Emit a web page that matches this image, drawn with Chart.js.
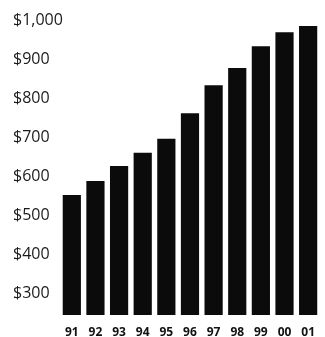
<!DOCTYPE html>
<html>
<head>
<meta charset="utf-8">
<script src="https://cdn.jsdelivr.net/npm/chart.js@4/dist/chart.umd.min.js"></script>
<style>
    html, body { margin: 0; padding: 0; background: #fff; }
    canvas { display: block; }
</style>
</head>
<body>
<canvas id="chart" width="325" height="337"></canvas>
<script>
const years = ['91', '92', '93', '94', '95', '96', '97', '98', '99', '00', '01'];
const amounts = [552, 588, 626, 660, 696, 762, 834, 878, 934, 970, 986];
const yTicks = [300, 400, 500, 600, 700, 800, 900, 1000];

const ctx = document.getElementById('chart');

// "$1,000" is wider than the axis box; widen the label clip after layout
const widenLabelClip = {
    id: 'widenLabelClip',
    afterLayout(chart) {
        chart.scales.y.right += 20;
    }
};

new Chart(ctx, {
    type: 'bar',
    data: {
        labels: years,
        datasets: [{
            data: amounts,
            backgroundColor: '#0b0b0b',
            borderWidth: 0,
            barPercentage: 0.77,
            categoryPercentage: 1
        }]
    },
    options: {
        responsive: false,
        animation: false,
        layout: {
            padding: { top: 10, right: 0, left: 13, bottom: 0 }
        },
        plugins: {
            legend: { display: false },
            tooltip: { enabled: false }
        },
        scales: {
            x: {
                grid: { display: false, drawTicks: false },
                border: { display: false },
                ticks: {
                    color: '#111',
                    padding: 10,
                    maxRotation: 0,
                    font: { family: 'Open Sans', size: 12, weight: 'bold' }
                },
                afterFit: scale => { scale.height = 22; }
            },
            y: {
                min: 243.5,
                max: 1027,
                grid: { display: false, drawTicks: false },
                border: { display: false },
                afterBuildTicks: axis => {
                    axis.ticks = yTicks.map(v => ({ value: v }));
                },
                ticks: {
                    color: '#1a1a1a',
                    crossAlign: 'far',
                    padding: 0,
                    font: { family: 'Open Sans', size: 16 },
                    callback: value => '$' + value.toLocaleString('en-US')
                },
                afterFit: scale => { scale.width = 47; }
            }
        }
    },
    plugins: [widenLabelClip]
});
</script>
</body>
</html>
